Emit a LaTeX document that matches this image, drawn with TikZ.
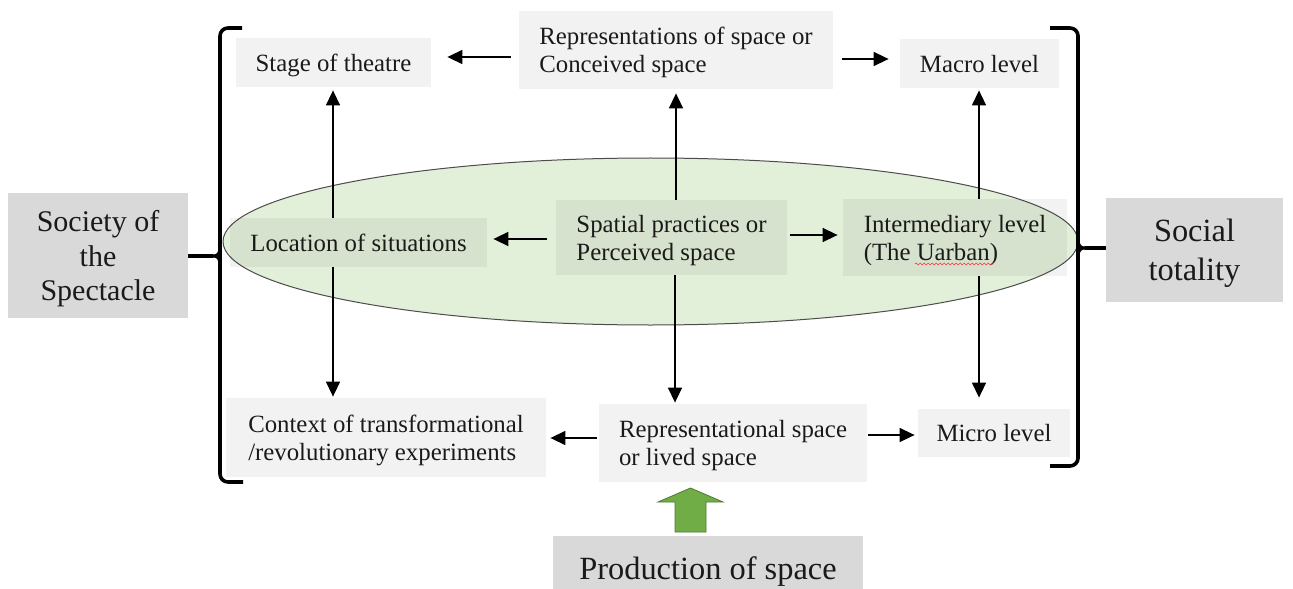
\documentclass[tikz,border=0pt]{standalone}
\usepackage{fontspec}
\setmainfont{Liberation Serif}
\newfontfamily\tms{Liberation Serif}
\usetikzlibrary{arrows.meta,calc,decorations.pathmorphing}
\definecolor{txt}{HTML}{1A1A1A}
\definecolor{ellfill}{HTML}{E2EFD9}
\definecolor{garrow}{HTML}{70AD47}
\definecolor{garrowline}{HTML}{4E7A30}
\tikzset{
  lbox/.style={fill=black, fill opacity=0.05, text opacity=1, inner sep=0pt, text=txt,
    font=\tms\fontsize{12.4}{14}\selectfont, align=left, text depth=0pt},
  dbox/.style={fill=black!15, inner sep=0pt, text=txt, align=center, text depth=0pt},
  arr/.style={-{Triangle[length=7.5pt,width=7pt]}, line width=0.75pt, black},
  brk/.style={line width=1.8pt, black, rounded corners=4pt},
}
\begin{document}
\begin{tikzpicture}[x=0.5pt,y=-0.5pt]
\useasboundingbox (0,0) rectangle (1293,588);
% ellipse
\draw[fill=ellfill, draw=black!70, line width=0.5pt] (650.5,241.5) ellipse [x radius=427.5, y radius=83.5];
% boxes
\node[lbox, minimum width=97.5pt, minimum height=24.5pt] (stage) at (333.5,62.5) {Stage of theatre};
\node[lbox, minimum width=157pt, minimum height=39pt] (rep) at (676,50) {Representations of space or\\Conceived space};
\node[lbox, minimum width=79.5pt, minimum height=24.5pt] (macro) at (979.5,63.5) {Macro level};
\node[lbox, minimum width=128.5pt, minimum height=24.5pt] (loc) at (358.5,242.5) {Location of situations};
\node[lbox, minimum width=115.5pt, minimum height=37.5pt] (sp) at (671.5,237.5) {Spatial practices or\\Perceived space};
\node[lbox, minimum width=112pt, minimum height=38.5pt] (inter) at (955,237.5) {Intermediary level\\(The Uarban)};
\node[lbox, minimum width=160pt, minimum height=39.5pt] (ctx) at (386,437.5) {Context of transformational\\/revolutionary experiments};
\node[lbox, minimum width=134pt, minimum height=39pt] (rls) at (733,443) {Representational space\\or lived space};
\node[lbox, minimum width=76pt, minimum height=24pt] (micro) at (994,433) {Micro level};
\node[dbox, minimum width=90pt, minimum height=62.5pt, font=\tms\fontsize{15}{17.2}\selectfont] (soc) at (98,255.5) {Society of\\the\\Spectacle};
\node[dbox, minimum width=88.5pt, minimum height=52pt, font=\tms\fontsize{16.2}{19.5}\selectfont] (tot) at (1194.5,250) {Social\\totality};
\node[dbox, minimum width=155pt, minimum height=32pt, font=\tms\fontsize{16.2}{19}\selectfont] (prod) at (708,568) {Production of space};
% spell-check squiggle
\draw[red!80, line width=0.3pt, decorate, decoration={snake, amplitude=0.5pt, segment length=2pt}] (915,264) -- (993,264);
% arrows
\draw[arr] ($(rep.west)+(-8,7)$) -- ($(stage.east)+(16,-5.5)$);
\draw[arr] ($(rep.east)+(9,9)$) -- ($(macro.west)+(-11,-4.5)$);
\draw[arr] ($(sp.north)+(4.5,0)$) -- ($(rep.south)+(0,4)$);
\draw[arr] ($(sp.west)+(-9,1.5)$) -- ($(loc.east)+(6,-3.5)$);
\draw[arr] ($(sp.east)+(3,-2.5)$) -- ($(inter.west)+(-5,-2.5)$);
\draw[arr] ($(sp.south)+(3.5,0)$) -- ($(rls.north)+(-58,-1)$);
\draw[arr] ($(loc.north)+(-25.5,0)$) -- ($(stage.south)+(-0.5,3)$);
\draw[arr] ($(loc.south)+(-25.5,0)$) -- ($(ctx.north)+(-53,-1)$);
\draw[arr] ($(inter.north)+(24,0)$) -- ($(macro.south)+(-0.5,2)$);
\draw[arr] ($(inter.south)+(24,0)$) -- ($(micro.north)+(-15,-11)$);
\draw[arr] ($(rls.west)+(-2,-5)$) -- ($(ctx.east)+(4,0.5)$);
\draw[arr] ($(rls.east)+(1,-8)$) -- ($(micro.west)+(-3,2)$);
% green block arrow from production to lived space
\draw[fill=garrow, draw=garrowline, line width=0.4pt]
  (675,532) -- (675,502) -- (658,502) -- (690.5,488) -- (723,502) -- (706,502) -- (706,532) -- cycle;
% brackets
\draw[brk] (242,28) -- (220,28) -- (220,482) -- (243,482);
\draw[line width=1.8pt] (soc.east |- 0,256) -- (213,256);
\draw[line width=1.4pt] (212,256) .. controls (218,256) and (220,254) .. (220,246);
\draw[line width=1.4pt] (212,256) .. controls (218,256) and (220,258) .. (220,266);
\draw[brk] (1050,28) -- (1078,28) -- (1078,466) -- (1050,466);
\draw[line width=1.8pt] (tot.west |- 0,248) -- (1085,248);
\draw[line width=1.4pt] (1086,248) .. controls (1080,248) and (1078,246) .. (1078,238);
\draw[line width=1.4pt] (1086,248) .. controls (1080,248) and (1078,250) .. (1078,258);
\end{tikzpicture}
\end{document}
